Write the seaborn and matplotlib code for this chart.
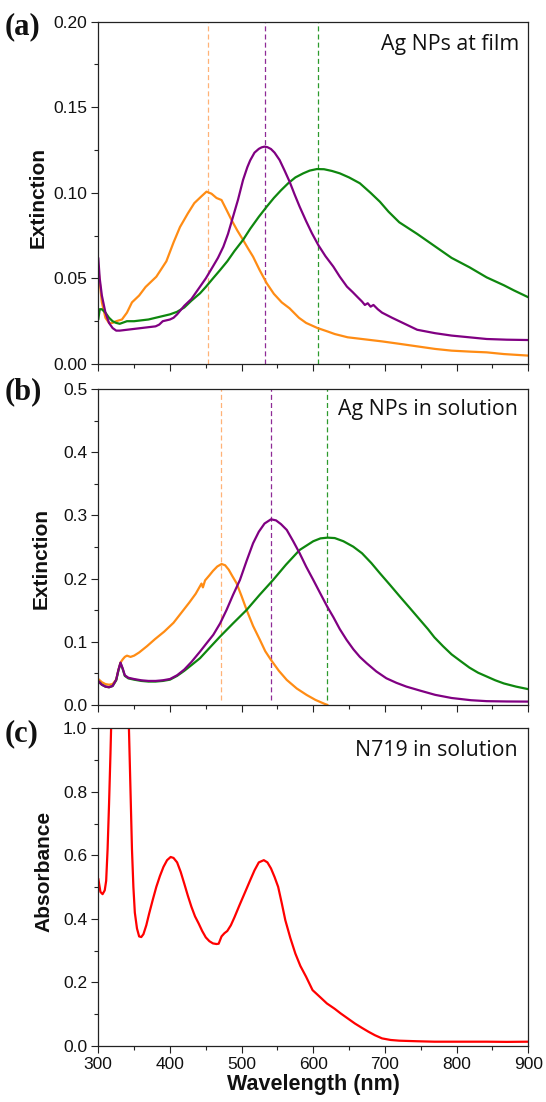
import numpy as np
import pandas as pd
import matplotlib
matplotlib.use("Agg")
import matplotlib.pyplot as plt
from matplotlib.ticker import MultipleLocator, FormatStrFormatter
import seaborn as sns

# ---------------- (a) Ag NPs at film ----------------
film_orange_wl = [300, 302, 305, 310, 315, 320, 325, 333, 340, 347, 357, 366, 381, 395, 405, 414,
                  425, 434, 444, 451, 458, 465, 472, 479, 486, 494, 502, 509, 516, 525, 535, 545,
                  556, 567, 580, 590, 606, 620, 630, 648, 670, 696, 720, 745, 770, 793, 820, 842,
                  866, 900]
film_orange = [0.056, 0.048, 0.036, 0.027, 0.024, 0.024, 0.025, 0.026, 0.030, 0.036, 0.040, 0.045,
               0.051, 0.060, 0.071, 0.080, 0.088, 0.094, 0.098, 0.1007, 0.0995, 0.097, 0.0958,
               0.090, 0.0841, 0.078, 0.0725, 0.0675, 0.0627, 0.055, 0.0472, 0.041, 0.036, 0.0325,
               0.027, 0.024, 0.021, 0.019, 0.0175, 0.0156, 0.0145, 0.0132, 0.0118, 0.0103, 0.0088,
               0.0078, 0.0072, 0.0068, 0.0058, 0.0049]

film_purple_wl = [300, 302, 305, 310, 315, 320, 325, 330, 340, 350, 360, 370, 380, 385, 390, 395,
                  400, 405, 410, 420, 430, 442, 450, 460, 467, 474.5, 481, 488, 495, 502, 508, 512,
                  518, 524, 528, 532, 536, 541, 546, 553, 560, 567, 574, 581, 590, 598, 607, 617,
                  628, 637, 647, 655, 662, 668, 672, 676, 680, 684, 690, 696, 710, 725, 745, 770,
                  793, 820, 842, 870, 900]
film_purple = [0.062, 0.050, 0.040, 0.030, 0.024, 0.021, 0.0195, 0.0195, 0.020, 0.0205, 0.021,
               0.0215, 0.022, 0.023, 0.025, 0.0255, 0.026, 0.027, 0.029, 0.034, 0.038, 0.0452,
               0.050, 0.057, 0.062, 0.0685, 0.076, 0.086, 0.096, 0.1075, 0.115, 0.119, 0.1235,
               0.1257, 0.1266, 0.127, 0.1267, 0.1256, 0.1235, 0.1192, 0.113, 0.1065, 0.099, 0.0919,
               0.0835, 0.0765, 0.0695, 0.063, 0.0569, 0.051, 0.0452, 0.042, 0.039, 0.0365, 0.0345,
               0.0355, 0.0335, 0.0345, 0.032, 0.030, 0.027, 0.024, 0.020, 0.018, 0.0166, 0.0155,
               0.0146, 0.0142, 0.014]

film_green_wl = [300, 302, 305, 310, 315, 320, 325, 330, 340, 350, 360, 370, 380, 390, 400, 410,
                 420, 430, 442, 450, 460, 470, 480, 490, 502, 512, 524, 535, 545, 555, 565, 575,
                 586, 595, 605, 615, 626, 637, 650, 665, 680, 693, 705, 720, 745, 769, 793, 818,
                 842, 866, 880, 900]
film_green = [0.026, 0.032, 0.032, 0.030, 0.027, 0.025, 0.024, 0.0235, 0.025, 0.025, 0.0255, 0.026,
              0.027, 0.028, 0.029, 0.0305, 0.033, 0.037, 0.0413, 0.045, 0.050, 0.0549, 0.060,
              0.066, 0.0725, 0.079, 0.086, 0.0919, 0.097, 0.1015, 0.1056, 0.109, 0.1114, 0.113,
              0.1139, 0.1138, 0.1128, 0.1114, 0.109, 0.1056, 0.100, 0.0948, 0.089, 0.0828, 0.076,
              0.069, 0.062, 0.0565, 0.0506, 0.046, 0.043, 0.039]

film_peaks = [453, 532, 606]

# ---------------- (b) Ag NPs in solution ----------------
sol_orange_wl = [300, 305, 310, 315, 320, 325, 328, 331, 334, 337, 340, 345, 350, 357, 368, 379,
                 392, 405, 416, 427, 436, 444, 446, 449, 455, 460, 466, 472, 477, 482, 487, 493,
                 500, 507, 516, 525.6, 533, 541, 552, 563, 577, 590.8, 603, 616, 620]
sol_orange = [0.041, 0.036, 0.033, 0.032, 0.033, 0.040, 0.055, 0.067, 0.072, 0.076, 0.078, 0.076,
              0.078, 0.083, 0.093, 0.104, 0.116, 0.130, 0.146, 0.162, 0.176, 0.192, 0.186, 0.197,
              0.205, 0.212, 0.219, 0.223, 0.221, 0.214, 0.204, 0.1925, 0.172, 0.1503, 0.125,
              0.1028, 0.085, 0.0712, 0.054, 0.0396, 0.026, 0.0158, 0.008, 0.0016, 0.0]

sol_purple_wl = [300, 305, 310, 315, 320, 325, 328, 331, 334, 337, 342, 350, 360, 370, 380, 390,
                 400, 410, 420, 430, 441.9, 450, 460.5, 470, 479, 488, 497.7, 507, 516, 524, 532,
                 541, 548, 555, 563, 572, 581, 590, 600, 610, 619.5, 628, 637, 646.6, 656, 665,
                 674.5, 688, 702, 716, 730, 749, 770, 793, 820, 842, 870, 900]
sol_purple = [0.038, 0.032, 0.029, 0.028, 0.030, 0.040, 0.055, 0.067, 0.058, 0.047, 0.043, 0.041,
              0.039, 0.038, 0.038, 0.039, 0.041, 0.047, 0.056, 0.068, 0.0843, 0.096, 0.111, 0.129,
              0.1503, 0.174, 0.1978, 0.228, 0.2558, 0.274, 0.287, 0.2937, 0.292, 0.286, 0.2769,
              0.259, 0.240, 0.219, 0.1978, 0.176, 0.1555, 0.139, 0.120, 0.1028, 0.088, 0.076,
              0.066, 0.053, 0.0422, 0.035, 0.029, 0.0227, 0.016, 0.011, 0.0075, 0.006, 0.0055,
              0.0053]

sol_green_wl = [300, 305, 310, 315, 320, 325, 328, 331, 334, 337, 342, 350, 360, 370, 380, 390,
                400, 410, 420, 430, 441.9, 455, 469.8, 488, 507, 525, 544, 562, 581, 600, 610, 620,
                630, 642, 655.8, 668, 681, 693, 707, 721, 735, 749, 760, 769, 781, 793, 806, 818,
                830, 842, 854, 866, 883, 900]
sol_green = [0.037, 0.032, 0.029, 0.028, 0.030, 0.039, 0.054, 0.066, 0.057, 0.046, 0.042, 0.040,
             0.038, 0.037, 0.037, 0.038, 0.040, 0.046, 0.054, 0.063, 0.0739, 0.090, 0.108, 0.129,
             0.1503, 0.174, 0.1978, 0.222, 0.2452, 0.259, 0.2635, 0.2647, 0.264, 0.259, 0.2504,
             0.240, 0.2245, 0.2083, 0.190, 0.1713, 0.153, 0.1345, 0.120, 0.107, 0.093, 0.080,
             0.069, 0.059, 0.051, 0.045, 0.039, 0.034, 0.029, 0.025]

sol_peaks = [471, 541, 619]

# ---------------- (c) N719 in solution ----------------
dye_wl = [300, 303, 306, 309, 311, 313, 315, 317, 319, 322, 326, 332, 338, 341, 343, 345, 347,
          349, 351, 354, 357, 360, 363, 367, 371, 376, 381, 386, 391, 396, 401, 405, 410, 415,
          420, 425, 430, 435, 440, 445, 450, 455, 460, 465, 468, 472, 476, 480, 485, 490, 497,
          505, 512, 518, 524, 531, 536, 541, 546, 551, 556, 561, 568, 575, 582, 590, 599, 610,
          619, 630, 638, 648, 658, 668, 677, 686, 696, 708, 720, 745, 769, 842, 870, 900]
dye_abs = [0.527, 0.485, 0.478, 0.490, 0.520, 0.620, 0.760, 0.920, 1.10, 1.40, 1.60, 1.60, 1.40,
           1.15, 0.98, 0.80, 0.62, 0.50, 0.42, 0.37, 0.345, 0.343, 0.352, 0.380, 0.417, 0.460,
           0.501, 0.535, 0.564, 0.585, 0.595, 0.592, 0.578, 0.548, 0.511, 0.473, 0.438, 0.408,
           0.386, 0.362, 0.342, 0.330, 0.323, 0.321, 0.322, 0.345, 0.355, 0.362, 0.380, 0.405,
           0.443, 0.485, 0.522, 0.553, 0.578, 0.585, 0.578, 0.559, 0.532, 0.501, 0.450, 0.396,
           0.340, 0.291, 0.252, 0.218, 0.176, 0.153, 0.134, 0.117, 0.103, 0.087, 0.071, 0.057,
           0.045, 0.034, 0.024, 0.019, 0.0168, 0.015, 0.0136, 0.0136, 0.013, 0.0136]

ORANGE, PURPLE, GREEN, RED = "#FF8C14", "#800082", "#0E870E", "#FF0000"
DASH_COLORS = ["#FFB277", "#8E2A96", "#2C9A2C"]

sns.set_theme(style="ticks")
plt.rcParams["font.family"] = ["Liberation Sans", "DejaVu Sans"]
plt.rcParams["axes.edgecolor"] = "#222222"
plt.rcParams["axes.linewidth"] = 0.9

fig = plt.figure(figsize=(5.46, 11.02), dpi=100)
left, width = 0.180, 0.7875
ax_a = fig.add_axes([left, 0.6697, width, 0.3106])
ax_b = fig.add_axes([left, 0.3603, width, 0.2868])
ax_c = fig.add_axes([left, 0.0508, width, 0.2883])


def draw(ax, wl, vals, color):
    df = pd.DataFrame({"wl": wl, "val": vals})
    sns.lineplot(data=df, x="wl", y="val", ax=ax, color=color, lw=1.6,
                 estimator=None, sort=False)


draw(ax_a, film_orange_wl, film_orange, ORANGE)
draw(ax_a, film_green_wl, film_green, GREEN)
draw(ax_a, film_purple_wl, film_purple, PURPLE)
for p, c in zip(film_peaks, DASH_COLORS):
    ax_a.axvline(p, color=c, lw=0.9, ls=(0, (4, 2.5)), zorder=1)

draw(ax_b, sol_orange_wl, sol_orange, ORANGE)
draw(ax_b, sol_green_wl, sol_green, GREEN)
draw(ax_b, sol_purple_wl, sol_purple, PURPLE)
for p, c in zip(sol_peaks, DASH_COLORS):
    ax_b.axvline(p, color=c, lw=0.9, ls=(0, (4, 2.5)), ymin=0.015, zorder=1)

draw(ax_c, dye_wl, dye_abs, RED)

# axis ranges and ticks
ax_a.set_ylim(0, 0.20)
ax_a.yaxis.set_major_locator(MultipleLocator(0.05))
ax_a.yaxis.set_minor_locator(MultipleLocator(0.025))
ax_a.yaxis.set_major_formatter(FormatStrFormatter("%.2f"))
ax_b.set_ylim(0, 0.5)
ax_b.yaxis.set_major_locator(MultipleLocator(0.1))
ax_b.yaxis.set_minor_locator(MultipleLocator(0.05))
ax_b.yaxis.set_major_formatter(FormatStrFormatter("%.1f"))
ax_c.set_ylim(0, 1.0)
ax_c.yaxis.set_major_locator(MultipleLocator(0.2))
ax_c.yaxis.set_minor_locator(MultipleLocator(0.1))
ax_c.yaxis.set_major_formatter(FormatStrFormatter("%.1f"))

for ax in (ax_a, ax_b, ax_c):
    ax.set_xlim(300, 900)
    ax.xaxis.set_major_locator(MultipleLocator(100))
    ax.xaxis.set_minor_locator(MultipleLocator(50))
    for s in ax.spines.values():
        s.set_visible(True)
        s.set_color("#222222")
        s.set_linewidth(0.9)
    ax.tick_params(which="major", direction="out", length=5, width=0.8,
                   colors="#222222", labelsize=12.5, pad=3)
    ax.tick_params(which="minor", direction="out", length=3, width=0.8, colors="#222222")
    ax.tick_params(axis="y", labelcolor="#111111")
    ax.set_xlabel("")
    ax.set_ylabel("")

ax_a.tick_params(axis="x", labelbottom=False)
ax_b.tick_params(axis="x", labelbottom=False)
ax_c.tick_params(axis="x", labelcolor="#111111")

label_kw = dict(fontsize=15, fontweight="bold", color="#111111")
ax_a.set_ylabel("Extinction", **label_kw)
ax_b.set_ylabel("Extinction", **label_kw)
ax_c.set_ylabel("Absorbance", **label_kw)
ax_a.yaxis.set_label_coords(-0.118, 0.485)
ax_b.yaxis.set_label_coords(-0.111, 0.462)
ax_c.yaxis.set_label_coords(-0.104, 0.551)
ax_c.set_xlabel("Wavelength (nm)", fontsize=15.5, fontweight="bold", color="#111111",
                labelpad=1)

# sample descriptions
note_kw = dict(ha="right", va="center", fontsize=15.3, family=["Open Sans", "DejaVu Sans"],
               color="#111111")
ax_a.text(0.978, 0.932, "Ag NPs at film", transform=ax_a.transAxes, **note_kw)
ax_b.text(0.975, 0.934, "Ag NPs in solution", transform=ax_b.transAxes, **note_kw)
ax_c.text(0.975, 0.929, "N719 in solution", transform=ax_c.transAxes, **note_kw)

# panel letters
letter_kw = dict(ha="left", va="center", fontsize=22, fontweight="bold",
                 family=["Liberation Serif", "DejaVu Serif"], color="#111111")
fig.text(0.008, 1 - 27 / 1102, "(a)", **letter_kw)
fig.text(0.008, 1 - 392 / 1102, "(b)", **letter_kw)
fig.text(0.008, 1 - 734 / 1102, "(c)", **letter_kw)

fig.savefig("out.png", dpi=100)
